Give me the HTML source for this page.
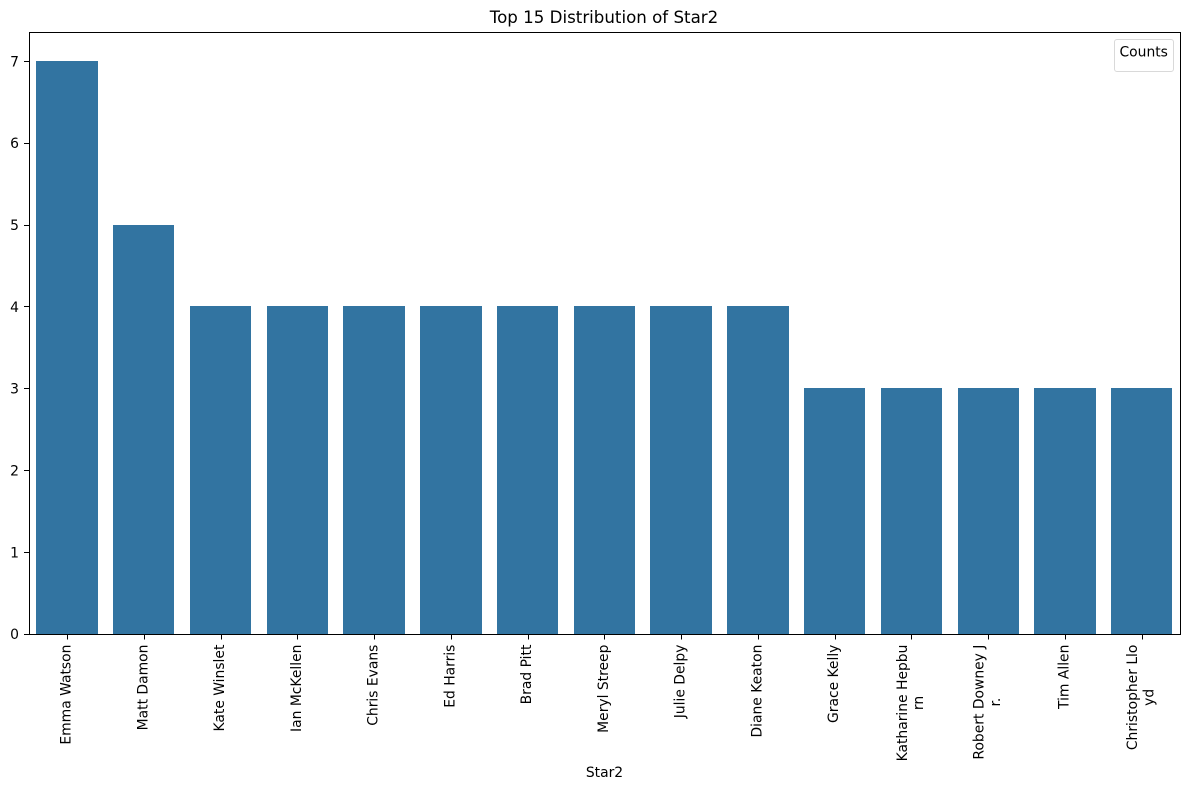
<!DOCTYPE html>
<html>
<head>
<meta charset="utf-8">
<title>Top 15 Distribution of Star2</title>
<style>
html,body{margin:0;padding:0;background:#fff;}
svg{display:block;}
text{font-family:"DejaVu Sans",sans-serif;fill:#000;}
</style>
</head>
<body>
<svg id="chart" xmlns="http://www.w3.org/2000/svg" width="1189" height="790" viewBox="0 0 1189 790">
  <rect x="0" y="0" width="1189" height="790" fill="#fff"/>
  <g id="bars" shape-rendering="crispEdges"></g>
  <g id="x-axis"></g>
  <g id="y-axis"></g>
  <rect x="29.5" y="32.5" width="1151" height="602" fill="none" stroke="#000" stroke-width="1" shape-rendering="crispEdges"/>
  <text x="604" y="23" font-size="16.67" text-anchor="middle">Top 15 Distribution of Star2</text>
  <text x="604.5" y="777" font-size="13.89" text-anchor="middle">Star2</text>
  <g>
    <rect x="1114.5" y="39.5" width="59" height="32" rx="2.5" ry="2.5" fill="#fff" stroke="#d9d9d9" stroke-width="1"/>
    <text x="1143.7" y="56.5" font-size="13.89" text-anchor="middle">Counts</text>
  </g>
</svg>
<script>
const categories = ["Emma Watson","Matt Damon","Kate Winslet","Ian McKellen","Chris Evans","Ed Harris","Brad Pitt","Meryl Streep","Julie Delpy","Diane Keaton","Grace Kelly","Katharine Hepbu\nrn","Robert Downey J\nr.","Tim Allen","Christopher Llo\nyd"];
const counts = [7,5,4,4,4,4,4,4,4,4,3,3,3,3,3];
const yTicks = [0,1,2,3,4,5,6,7];

const NS = "http://www.w3.org/2000/svg";
const plot = {left:29.1, right:1180.65, top:32.7, bottom:634.2};
const yMax = Math.max(...counts) * 1.05;
const step = (plot.right - plot.left) / categories.length;
const barWidth = step * 0.8;
const xCenter = i => plot.left + step * (i + 0.5);
const yPos = v => plot.bottom - (v / yMax) * (plot.bottom - plot.top);

function make(tag, attrs, parent) {
  const el = document.createElementNS(NS, tag);
  for (const k in attrs) el.setAttribute(k, attrs[k]);
  parent.appendChild(el);
  return el;
}

const barsG = document.getElementById("bars");
const xG = document.getElementById("x-axis");
const yG = document.getElementById("y-axis");

counts.forEach((v, i) => {
  const x0 = Math.floor(xCenter(i) - barWidth / 2);
  const x1 = Math.floor(xCenter(i) + barWidth / 2);
  const y0 = Math.floor(yPos(v));
  const y1 = Math.floor(plot.bottom);
  const bar = make("rect", {x: x0, y: y0, width: x1 - x0, height: y1 - y0, fill: "#3274a1"}, barsG);
  
  
});

categories.forEach((label, i) => {
  const cx = xCenter(i);
  const tx = Math.floor(cx) + 0.5;
  const tick = make("line", {x1: tx, x2: tx, y1: 634.5, y2: 639.5, stroke: "#000", "stroke-width": 1, "shape-rendering": "crispEdges"}, xG);
  
  

  const lines = label.split("\n");
  const lineGap = 16.2;
  const topY = 644.6;
  const firstOffset = -(lines.length - 1) * lineGap / 2;
  const made = lines.map((t, n) => {
    const text = make("text", {"font-size": 13.89, "text-anchor": "middle"}, xG);
    
    
    text.textContent = t;
    return {text: text, lx: cx + 3 + firstOffset + n * lineGap};
  });
  const w = made[0].text.getComputedTextLength();
  made.forEach(item => {
    const ly = topY + w / 2;
    item.text.setAttribute("transform", "translate(" + item.lx + "," + ly + ") rotate(-90)");
  });
});

yTicks.forEach(v => {
  const y = yPos(v);
  const ty = Math.floor(y) + 0.5;
  const tick = make("line", {x1: 24, x2: 29.5, y1: ty, y2: ty, stroke: "#000", "stroke-width": 1, "shape-rendering": "crispEdges"}, yG);
  
  
  const text = make("text", {x: 19, y: y + 5, "font-size": 13.89, "text-anchor": "end"}, yG);
  
  
  text.textContent = v;
});
</script>
</body>
</html>
